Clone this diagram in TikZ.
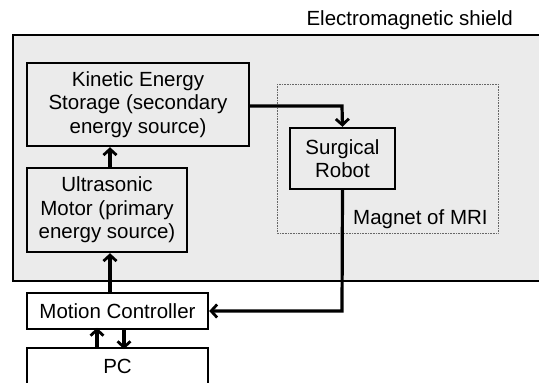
\documentclass[tikz,border=0pt]{standalone}
\usepackage{fontspec}
\setmainfont{Liberation Sans}
\usetikzlibrary{arrows.meta}
\begin{document}
\begin{tikzpicture}[x=1pt,y=-1pt,
  block/.style={draw,line width=2.4pt,align=center,inner sep=0pt,
    font=\fontsize{20.5}{23.5}\selectfont},
  link/.style={line width=3.2pt,-{Straight Barb[length=6pt,width=13pt,line width=2.8pt]}},
  lbl/.style={inner sep=0pt,font=\fontsize{20.5}{23.5}\selectfont}]
\useasboundingbox (0,0) rectangle (539,383);
\begin{scope}
\clip (0,0) rectangle (539,383);
% shielded room
\draw[line width=2.4pt,fill=black!8] (13,35) rectangle (560,281);
\end{scope}
\node[lbl,anchor=base east] (shieldlbl) at (513,25) {Electromagnetic shield};
% MRI magnet zone
\draw[densely dotted,line width=0.6pt,draw=black!60] (277,84) rectangle (498,233);
\node[lbl,anchor=base west] (magnetlbl) at (353,224) {Magnet of MRI};
% blocks
\node[block,minimum width=222pt,minimum height=83pt] (kes) at (138,104.5)
  {Kinetic Energy\\Storage (secondary\\energy source)};
\node[block,minimum width=160pt,minimum height=84pt] (usm) at (107,210)
  {Ultrasonic\\Motor (primary\\energy source)};
\node[block,minimum width=105pt,minimum height=61pt] (robot) at (342.5,158.5)
  {Surgical\\Robot};
\node[block,fill=white,minimum width=181pt,minimum height=36pt] (mc) at (117.5,311)
  {Motion Controller};
\node[block,fill=white,minimum width=181pt,minimum height=36pt] (pc) at (117.5,366)
  {PC};
% connectors
\coordinate (c1) at (342,106);
\coordinate (c2) at (342,311);
\draw[link] (kes.east |- c1) -- (c1) -- (robot.north);
\draw[link] (robot.south) -- (c2) -- (mc.east);
\draw[link] (usm.south -| 110,0) ++(0,41) -- ++(0,-41);
\draw[link] (kes.south -| 110,0) ++(0,21) -- ++(0,-21);
\draw[link] (pc.north -| 97,0) -- ++(0,-19);
\draw[link] (mc.south -| 124,0) -- ++(0,19);
\end{tikzpicture}
\end{document}
